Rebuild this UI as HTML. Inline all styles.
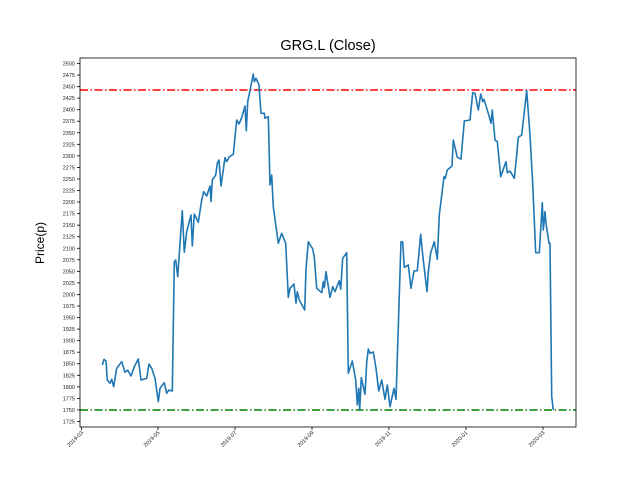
<!DOCTYPE html>
<html><head><meta charset="utf-8"><style>
body{margin:0;background:#fff}
svg{display:block;font-family:"Liberation Sans","DejaVu Sans",sans-serif}
</style></head><body>
<svg width="640" height="480" viewBox="0 0 640 480" xmlns="http://www.w3.org/2000/svg">
<rect width="640" height="480" fill="#fff"/>
<text x="328" y="50" font-size="14.5" text-anchor="middle" fill="#000">GRG.L (Close)</text>
<text transform="translate(44,243) rotate(-90)" font-size="12" text-anchor="middle" fill="#000">Price(p)</text>
<g id="yt" font-size="5.5" fill="#222" text-anchor="end"></g>
<g id="xt" font-size="5.5" fill="#222"></g>
<line x1="80" y1="90" x2="576" y2="90" stroke="#ff0000" stroke-width="1.5" stroke-dasharray="8,2.5,1.5,2.5"/>
<line x1="80" y1="410" x2="576" y2="410" stroke="#008000" stroke-width="1.5" stroke-dasharray="8,2.5,1.5,2.5"/>
<polyline fill="none" stroke="#1f77b4" stroke-width="1.6" stroke-linejoin="round" points="
102.3,365 104,359.3 106,361 107.3,380 110,383.3 111.7,379.3 113.7,386.7 116.7,368.3 121.7,361.7 125,372.3 127.7,370 131,376 134.3,366.7 138.3,359 141,380 146.7,378.3 149,364 151.7,368.3 155,378.3 158.3,401.7 160,388.3 164.3,382.7 166.7,393.3 169,390 172.3,391 174.3,261.7 175.7,260 177.7,276.7 182.3,210.7 184.3,252.3 186.7,231.7 191,215 192.3,246 194.3,214 198.3,222.3 201.7,200 203.7,191.7 206.7,196 210,186 211,201.7 212.3,180 215.7,175 217.3,163.3 219,160 221,186 225,157.7 226.7,161.7 229.3,156.7 233.3,154.3 236.7,120 239,124 241.7,117.7 245,106 246.3,130.7 247.7,101.7 253.3,74 254.3,81.7 256,78.3 259,85 261,113.3 264.3,113.3 265,118.3 268.3,116.7 270,185 271.7,175 273.3,206.7 278.3,243.3 281.7,233.3 285.7,243.3 288.3,297.3 290,288.3 294,284 296,303.3 297.3,291.7 299.3,300 304.7,310 306,269 308.3,241.7 312.7,249 314.3,257.3 316.7,288.3 321.7,292.7 323.3,281.7 324.3,287.7 326,271.7 330,297.3 332.7,286.7 335,291.7 339.3,280.7 340.7,289.3 342.7,258.3 346.7,252.7 348.3,373.3 352.3,361 355.7,380 357.3,405 358.7,388.3 359.7,409.3 361.3,377.7 365,394.3 366.7,362.3 368.3,349 370,353.3 373.3,352 376,368.3 378.7,391 381.7,380 385,399.3 387.3,385 390,406.7 394,388.3 396,399.3 401,241.7 402.7,242 404.3,267.3 408.3,265 411,288.3 414,271 417.3,270.7 420.7,234.3 422.7,255 427,291.7 428.3,271.7 430.7,252.7 434.3,241.7 437.3,259.3 439.3,215 444,176.7 445.3,178.3 447.3,170 452,166 453.3,140 457.3,157.3 461,159 464.3,121 470,120 472.7,92.7 475,93.3 478.3,110 480.7,94 482.7,101.7 484,99.3 489.3,116.7 491,123.3 492.3,110 495,140 497.3,141.7 500.7,176.7 506,161.7 507.3,172.7 510,171 514.3,178.3 516.7,155 518.3,137.3 521.7,135 526.7,90.7 530,135 532.7,183.3 535.7,252.7 539.3,252.7 542.3,202.7 543.3,230 545,211.7 546,223.3 549,243.3 550,243.3 551.7,396.7 553.3,410"/>
<rect x="80" y="58" width="496" height="369" fill="none" stroke="#000" stroke-width="0.8"/>
</svg>
<script>
var ns="http://www.w3.org/2000/svg",yt=document.getElementById("yt"),xt=document.getElementById("xt"),s=document.querySelector("svg");
for(var v=1725;v<=2500;v+=25){var y=63.5+(2500-v)*0.4619;
var l=document.createElementNS(ns,"line");l.setAttribute("x1",77);l.setAttribute("x2",80);l.setAttribute("y1",y);l.setAttribute("y2",y);l.setAttribute("stroke","#000");l.setAttribute("stroke-width","0.8");s.appendChild(l);
var t=document.createElementNS(ns,"text");t.setAttribute("x",75);t.setAttribute("y",y+2);t.textContent=v;yt.appendChild(t);}
var xs=[[81.5,"2019-03"],[158,"2019-05"],[235,"2019-07"],[312,"2019-09"],[389,"2019-11"],[466,"2020-01"],[543,"2020-03"]];
xs.forEach(function(p){var l=document.createElementNS(ns,"line");l.setAttribute("x1",p[0]);l.setAttribute("x2",p[0]);l.setAttribute("y1",427);l.setAttribute("y2",430);l.setAttribute("stroke","#000");l.setAttribute("stroke-width","0.8");s.appendChild(l);
var t=document.createElementNS(ns,"text");t.setAttribute("text-anchor","end");t.setAttribute("transform","translate("+(p[0]+2)+",433) rotate(-45)");t.textContent=p[1];xt.appendChild(t);});
</script>
</body></html>
